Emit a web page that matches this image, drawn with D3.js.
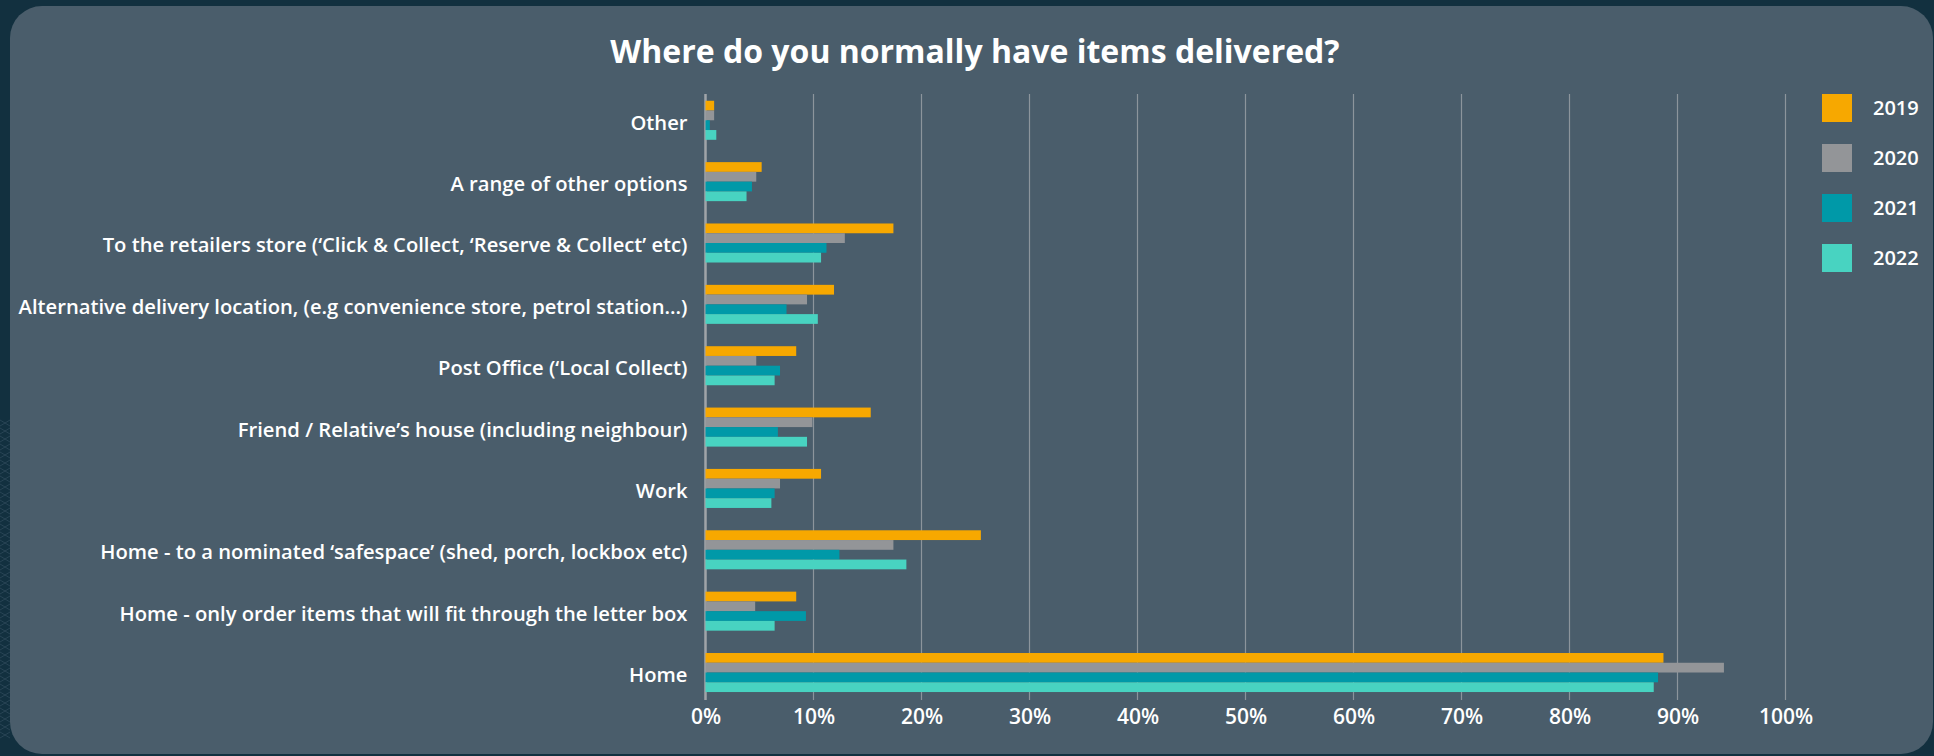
<script src="https://cdn.jsdelivr.net/npm/d3@7"></script>
<style>
  body { margin: 0; background: #12303f; }
  svg text { font-family: "Open Sans", "Lato", sans-serif; fill: #ffffff; }
</style>
<div id="chart"></div>
<script>
// categories, top to bottom
var categories = [
  "Other",
  "A range of other options",
  "To the retailers store (\u2018Click & Collect, \u2018Reserve & Collect\u2019 etc)",
  "Alternative delivery location, (e.g convenience store, petrol station...)",
  "Post Office (\u2018Local Collect)",
  "Friend / Relative\u2019s house (including neighbour)",
  "Work",
  "Home - to a nominated \u2018safespace\u2019 (shed, porch, lockbox etc)",
  "Home - only order items that will fit through the letter box",
  "Home"
];
var years = ["2019", "2020", "2021", "2022"];
var v2019 = [0.8, 5.2, 17.4, 11.9, 8.4, 15.3, 10.7, 25.5, 8.4, 88.7];
var v2020 = [0.8, 4.7, 12.9, 9.4, 4.7, 9.9, 6.9, 17.4, 4.6, 94.3];
var v2021 = [0.4, 4.3, 11.2, 7.5, 6.9, 6.7, 6.4, 12.4, 9.3, 88.2];
var v2022 = [1.0, 3.8, 10.7, 10.4, 6.4, 9.4, 6.1, 18.6, 6.4, 87.8];
var xTicks = [0, 10, 20, 30, 40, 50, 60, 70, 80, 90, 100];

var colors = ["#f7a800", "#939598", "#0099a8", "#48d3c1"];
var series = [v2019, v2020, v2021, v2022];

var W = 1934, H = 756;

var svg = d3.select("#chart").append("svg")
    .attr("width", W)
    .attr("height", H);

// faint pattern on the outer background
var pat = svg.append("g").attr("stroke", "#3a5566").attr("stroke-width", 0.7).attr("opacity", 0.8);
for (var k = 0; k < 40; k++) {
  var yy = 420 + k * 8;
  pat.append("line").attr("x1", 0).attr("y1", yy).attr("x2", 10).attr("y2", yy + 6);
  pat.append("line").attr("x1", 0).attr("y1", yy + 6).attr("x2", 10).attr("y2", yy);
}

// card
svg.append("rect")
    .attr("x", 10).attr("y", 6)
    .attr("width", W - 11).attr("height", 748)
    .attr("rx", 32)
    .attr("fill", "#4a5d6b");

// title
svg.append("text")
    .attr("x", 975).attr("y", 63)
    .attr("text-anchor", "middle")
    .style("font-size", "32px")
    .style("font-weight", 700)
    .text("Where do you normally have items delivered?");

var x = d3.scaleLinear().domain([0, 100]).range([705.5, 1785.5]);
var y = d3.scaleBand().domain(categories).range([89.6, 703.2])
    .paddingInner(0.364).paddingOuter(0.182);
var yInner = d3.scaleBand().domain(years).range([0, y.bandwidth()]);

// gridlines
svg.append("g").selectAll("line")
  .data(xTicks)
  .join("line")
    .attr("x1", function(d) { return x(d); })
    .attr("x2", function(d) { return x(d); })
    .attr("y1", 94).attr("y2", 700)
    .attr("stroke", function(d) { return d === 0 ? "#a0a4a8" : "#8c959c"; })
    .attr("stroke-width", function(d) { return d === 0 ? 2.5 : 1.2; });

// bars
var groups = svg.append("g").selectAll("g")
  .data(categories)
  .join("g")
    .attr("transform", function(d) { return "translate(0," + y(d) + ")"; });

groups.selectAll("rect")
  .data(function(d, i) { return years.map(function(yr, j) { return {year: yr, value: series[j][i], color: colors[j]}; }); })
  .join("rect")
    .attr("x", x(0))
    .attr("y", function(d) { return yInner(d.year); })
    .attr("width", function(d) { return x(d.value) - x(0); })
    .attr("height", yInner.bandwidth())
    .attr("fill", function(d) { return d.color; });

// left axis labels
var leftAxis = svg.append("g")
    .attr("transform", "translate(" + x(0) + ",3)")
    .call(d3.axisLeft(y).tickSize(0).tickPadding(18));
leftAxis.select(".domain").remove();
leftAxis.selectAll("text")
    .attr("fill", "#ffffff")
    .style("font-family", "'Open Sans', Lato, sans-serif")
    .style("font-size", "20.2px")
    .style("font-weight", 600);

// bottom axis labels
var bottomAxis = svg.append("g")
    .attr("transform", "translate(0,700)")
    .call(d3.axisBottom(x).tickValues(xTicks).tickSize(0).tickPadding(9)
      .tickFormat(function(d) { return d + "%"; }));
bottomAxis.select(".domain").remove();
bottomAxis.selectAll("text")
    .attr("fill", "#ffffff")
    .style("font-family", "'Open Sans', Lato, sans-serif")
    .style("font-size", "21px")
    .style("font-weight", 600);

// legend
var legend = svg.append("g").selectAll("g")
  .data(years)
  .join("g")
    .attr("transform", function(d, i) { return "translate(1822," + (94 + i * 50) + ")"; });
legend.append("rect")
    .attr("width", 30).attr("height", 28)
    .attr("fill", function(d, i) { return colors[i]; });
legend.append("text")
    .attr("x", 51).attr("y", 14)
    .attr("dy", "0.35em")
    .style("font-size", "20px")
    .style("font-weight", 600)
    .text(function(d) { return d; });
</script>
